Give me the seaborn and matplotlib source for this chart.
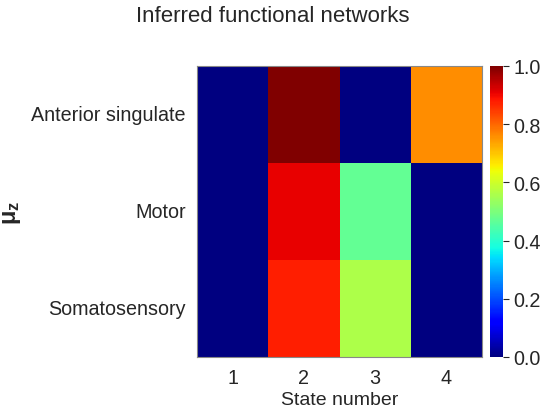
import numpy as np
import pandas as pd
import matplotlib
matplotlib.use("Agg")
import matplotlib.pyplot as plt
import seaborn as sns

regions = ["Anterior singulate", "Motor", "Somatosensory"]
states = ["1", "2", "3", "4"]
anterior = [0.0, 1.0, 0.0, 0.76]
motor = [0.0, 0.91, 0.47, 0.0]
somato = [0.0, 0.875, 0.56, 0.0]

sns.set_theme(style="ticks")
plt.rcParams['font.family'] = ['Liberation Sans', 'DejaVu Sans']
plt.rcParams['mathtext.fontset'] = 'custom'
plt.rcParams['mathtext.rm'] = 'Liberation Sans'
plt.rcParams['mathtext.bf'] = 'Liberation Sans:bold'
plt.rcParams['mathtext.it'] = 'Liberation Sans:italic'

df = pd.DataFrame([anterior, motor, somato], index=regions, columns=states)

fig = plt.figure(figsize=(5.45, 4.1), dpi=100)
ax = fig.add_axes([197/545, 1-358/410, 285/545, 291/410])
cax = fig.add_axes([490/545, 1-358/410, 13/545, 291/410])
sns.heatmap(df, ax=ax, cbar_ax=cax, cmap="jet", vmin=0, vmax=1)
for s in ax.spines.values():
    s.set_visible(True)
    s.set_color("#888888")
    s.set_linewidth(0.8)
ax.tick_params(axis="both", labelsize=14.2, length=0, pad=8)
ax.set_yticklabels(regions, rotation=0)
ax.set_xticklabels(states, rotation=0)
ax.set_xlabel("State number", fontsize=14, labelpad=3)
ax.set_ylabel(r"$\mathbf{\mu}_\mathbf{z}$", fontsize=17)
ax.yaxis.set_label_coords((23 - 197) / 285, 0.5)
cax.tick_params(labelsize=14.2, length=4, width=0.8)
cax.set_yticks([0, 0.2, 0.4, 0.6, 0.8, 1.0])
cax.set_yticklabels(["0.0", "0.2", "0.4", "0.6", "0.8", "1.0"])
fig.suptitle("Inferred functional networks", fontsize=16, y=0.985)
fig.savefig("out.png", dpi=100)
